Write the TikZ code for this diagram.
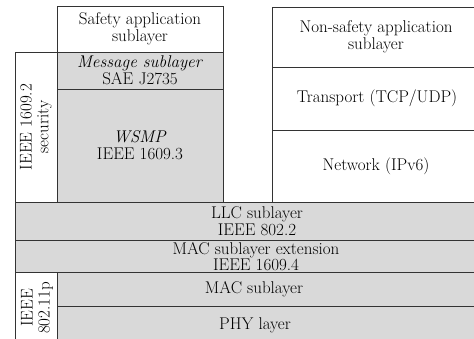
\documentclass[tikz,border=0pt]{standalone}
\begin{document}
\begin{tikzpicture}[x=1pt,y=-1pt,
  lay/.style={draw=black!80,line width=1pt},
  wbox/.style={lay,fill=white},
  gbox/.style={lay,fill=black!15},
  txt/.style={align=center,inner sep=0pt,font=\fontsize{17}{16.8}\selectfont}]
\useasboundingbox (0,0) rectangle (474,338);
\clip (0,0) rectangle (474,338);
% left stack
\draw[wbox] (57.7,6) rectangle (223,52);
\draw[gbox] (57.7,52) rectangle (223,89);
\draw[gbox] (57.7,89) rectangle (223,202.5);
\draw[wbox] (15.7,52) rectangle (57.7,202.5);
% right stack
\draw[wbox] (272,7) rectangle (490,67);
\draw[wbox] (272,67) rectangle (490,130);
\draw[wbox] (272,130) rectangle (490,202.5);
% bottom layers
\draw[gbox] (15.7,202.5) rectangle (490,240.7);
\draw[gbox] (15.7,240.7) rectangle (490,272.7);
\draw[wbox] (15.7,272.7) rectangle (57.7,350);
\draw[gbox] (57.7,272.7) rectangle (490,306.7);
\draw[gbox] (57.7,306.7) rectangle (490,350);
% texts
\node[txt] (safety) at (140,29) {Safety application\\sublayer};
\node[txt] (msg) at (140,70.5) {\textit{Message sublayer}\\SAE J2735};
\node[txt] (wsmp) at (140,145.5) {\textit{WSMP}\\IEEE 1609.3};
\node[txt,rotate=90] (sec) at (36,127) {IEEE 1609.2\\security};
\node[txt] (nonsafety) at (376,37) {Non-safety application\\sublayer};
\node[txt] (transport) at (377,98.5) {Transport (TCP/UDP)};
\node[txt] (network) at (376,166) {Network (IPv6)};
\node[txt] (llc) at (257,221.5) {LLC sublayer\\IEEE 802.2};
\node[txt] (macext) at (256,256.7) {MAC sublayer extension\\IEEE 1609.4};
\node[txt,rotate=90] (p80211) at (37,308) {IEEE\\802.11p};
\node[txt] (mac) at (254,289.7) {MAC sublayer};
\node[txt] (phy) at (255,325.7) {PHY layer};
\end{tikzpicture}
\end{document}
